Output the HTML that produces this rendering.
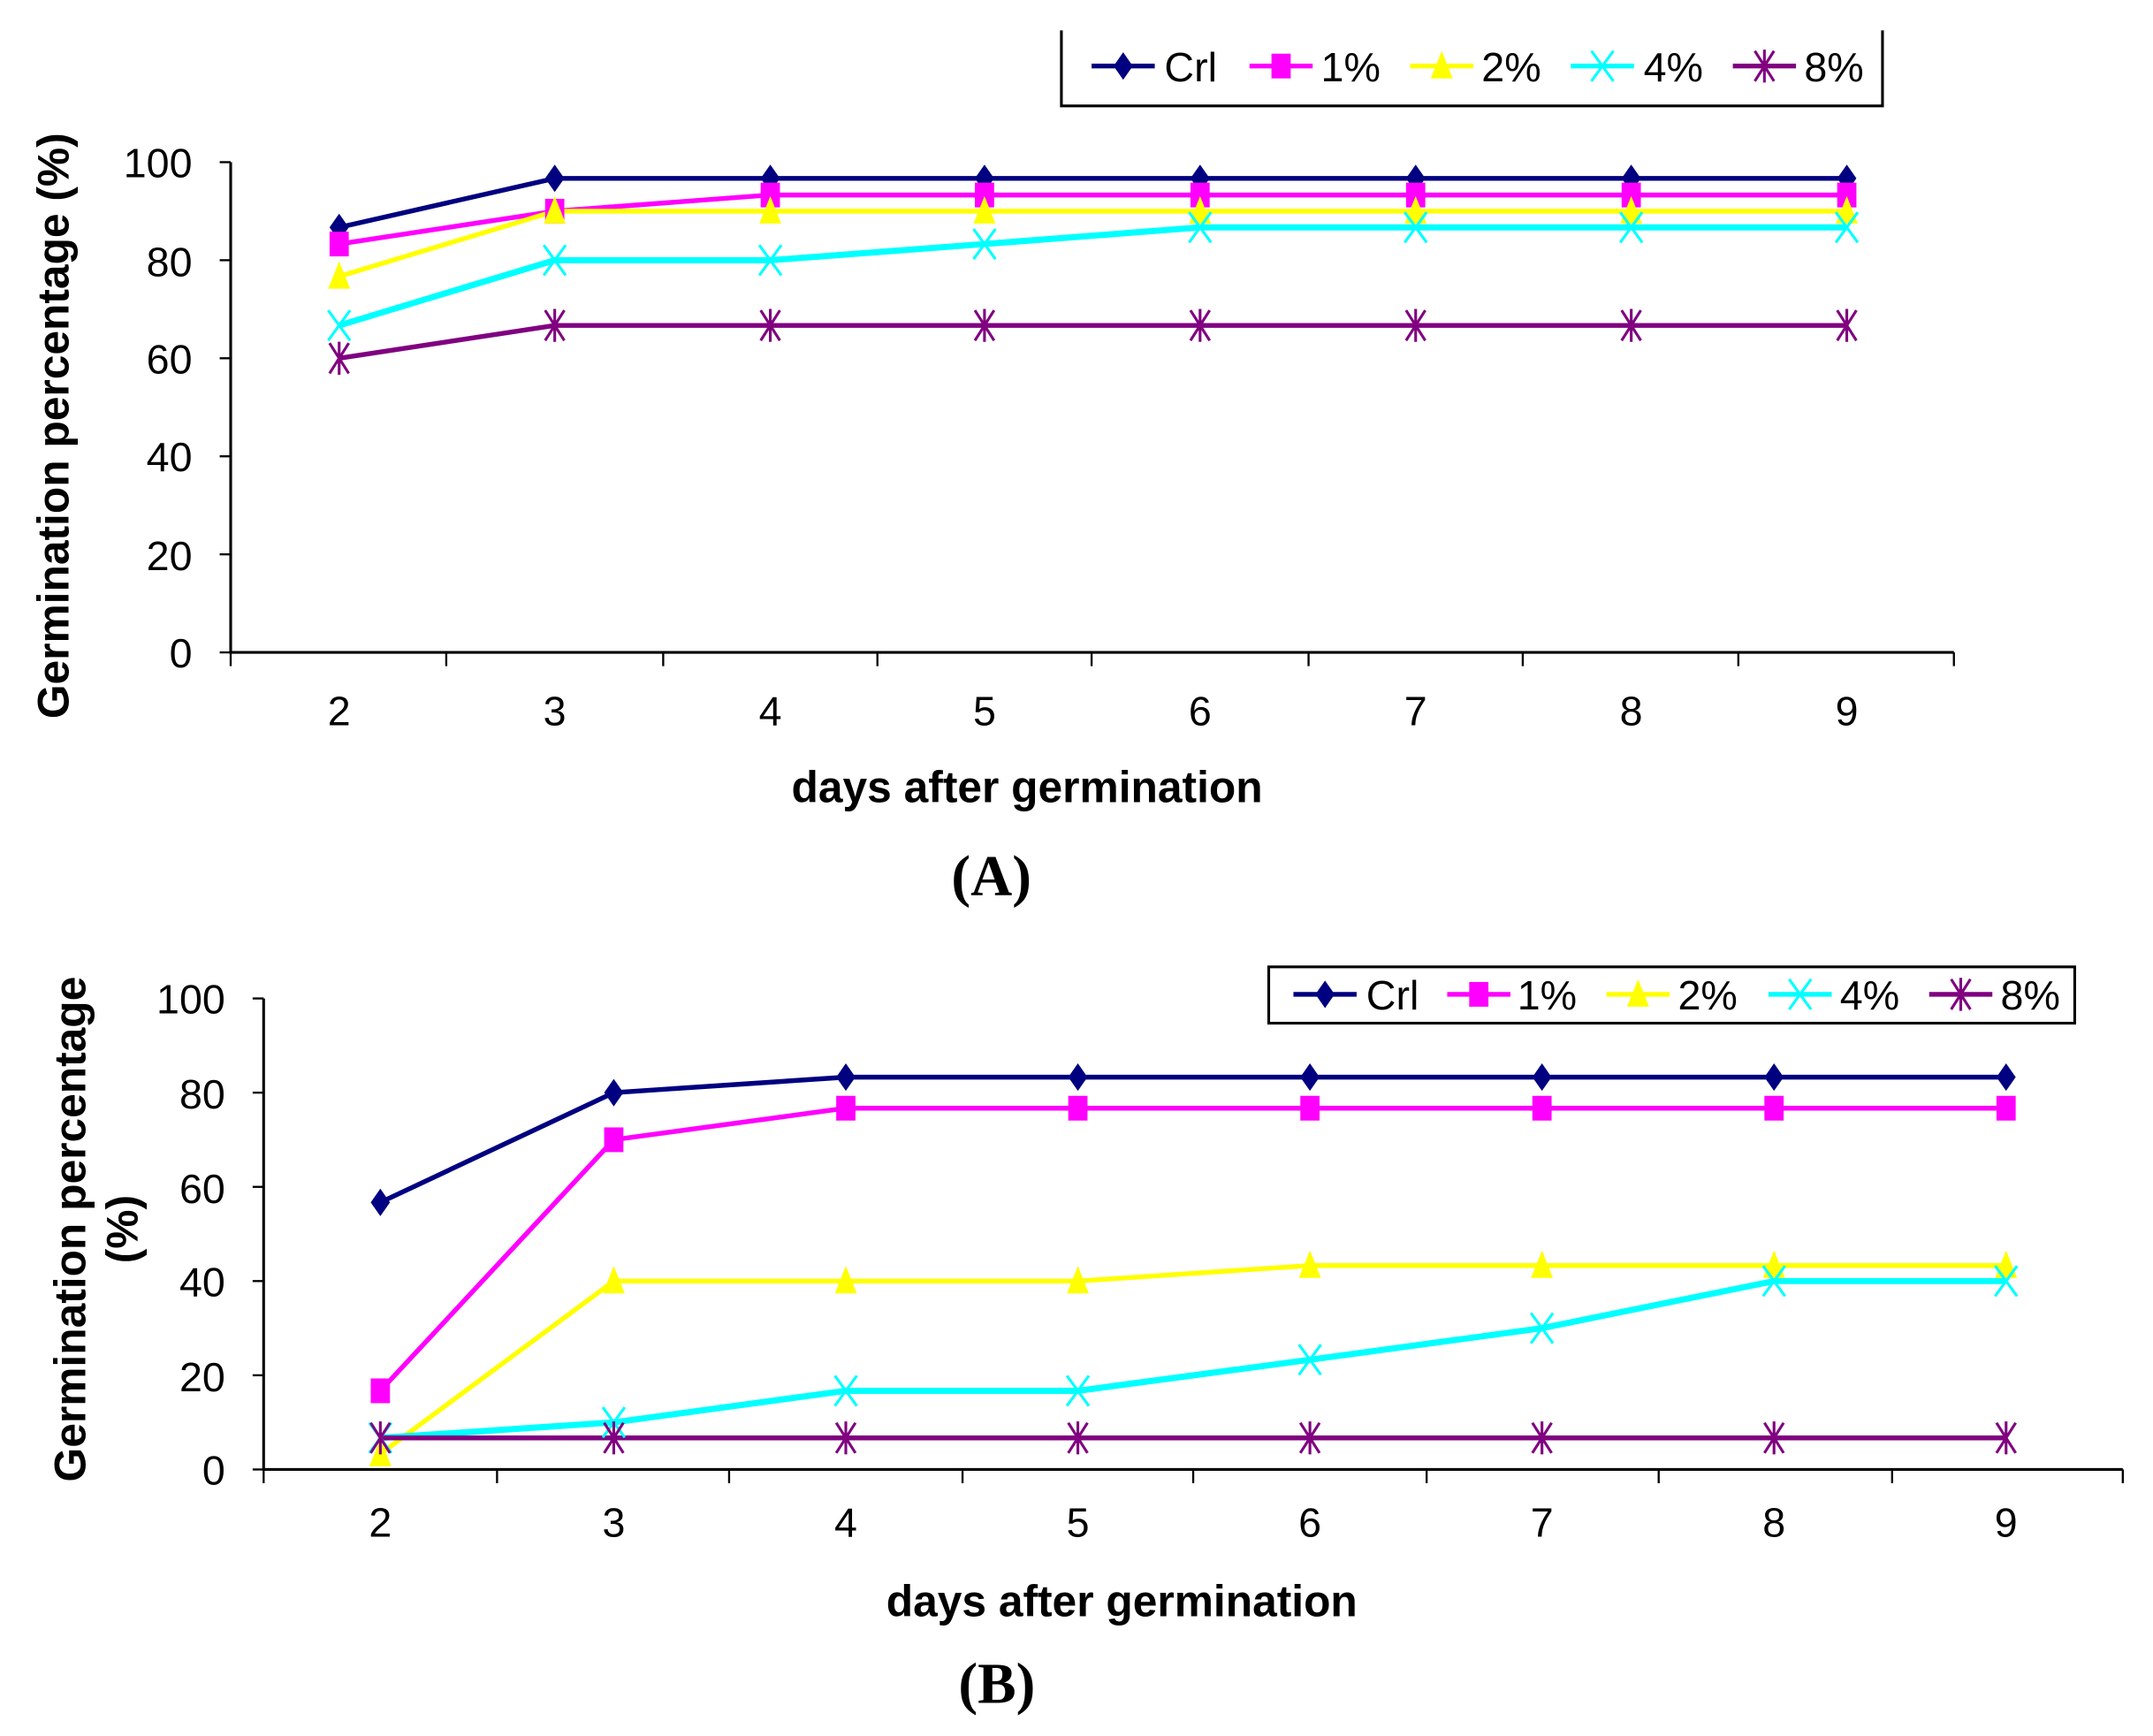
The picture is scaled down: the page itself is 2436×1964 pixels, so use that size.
<!DOCTYPE html>
<html><head><meta charset="utf-8"><style>html,body{margin:0;padding:0;background:#fff}svg{display:block}</style></head>
<body>
<svg id="s" width="2436" height="1964" viewBox="0 0 1568 1264" xmlns="http://www.w3.org/2000/svg" font-family="Liberation Sans, Arial, sans-serif">
<rect width="1568" height="1264" fill="#fff"/>
<g font-size="30" fill="#000">
<text x="140" y="486" text-anchor="end">0</text>
<text x="140" y="415" text-anchor="end">20</text>
<text x="140" y="343" text-anchor="end">40</text>
<text x="140" y="272" text-anchor="end">60</text>
<text x="140" y="201" text-anchor="end">80</text>
<text x="140" y="129" text-anchor="end">100</text>
<text x="247" y="528" text-anchor="middle">2</text>
<text x="404" y="528" text-anchor="middle">3</text>
<text x="561" y="528" text-anchor="middle">4</text>
<text x="717" y="528" text-anchor="middle">5</text>
<text x="874" y="528" text-anchor="middle">6</text>
<text x="1031" y="528" text-anchor="middle">7</text>
<text x="1188" y="528" text-anchor="middle">8</text>
<text x="1345" y="528" text-anchor="middle">9</text>
<text x="748" y="584" text-anchor="middle" font-weight="bold" font-size="32">days after germination</text>
<text x="50" y="310" text-anchor="middle" font-weight="bold" font-size="32" transform="rotate(-90 50 310)">Germination percentage (%)</text>
<text x="722" y="652" text-anchor="middle" font-weight="bold" font-family="Liberation Serif, serif" font-size="42">(A)</text>
<text x="848" y="59">Crl</text><text x="962" y="59">1%</text><text x="1079" y="59">2%</text><text x="1197" y="59">4%</text><text x="1314" y="59">8%</text>
<text x="164" y="1081" text-anchor="end">0</text>
<text x="164" y="1013" text-anchor="end">20</text>
<text x="164" y="944" text-anchor="end">40</text>
<text x="164" y="876" text-anchor="end">60</text>
<text x="164" y="807" text-anchor="end">80</text>
<text x="164" y="738" text-anchor="end">100</text>
<text x="277" y="1119" text-anchor="middle">2</text>
<text x="447" y="1119" text-anchor="middle">3</text>
<text x="616" y="1119" text-anchor="middle">4</text>
<text x="785" y="1119" text-anchor="middle">5</text>
<text x="954" y="1119" text-anchor="middle">6</text>
<text x="1123" y="1119" text-anchor="middle">7</text>
<text x="1292" y="1119" text-anchor="middle">8</text>
<text x="1461" y="1119" text-anchor="middle">9</text>
<text x="817" y="1177" text-anchor="middle" font-weight="bold" font-size="32">days after germination</text>
<text x="62" y="895" text-anchor="middle" font-weight="bold" font-size="32" transform="rotate(-90 62 895)">Germination percentage</text>
<text x="100" y="895" text-anchor="middle" font-weight="bold" font-size="32" transform="rotate(-90 100 895)">(%)</text>
<text x="726" y="1240" text-anchor="middle" font-weight="bold" font-family="Liberation Serif, serif" font-size="42">(B)</text>
<text x="995" y="735">Crl</text><text x="1105" y="735">1%</text><text x="1222" y="735">2%</text><text x="1340" y="735">4%</text><text x="1457" y="735">8%</text>
</g>
<g id="dyn"></g>
</svg>
<script>
var g=document.getElementById("dyn"),h="";
var cols=["#000080","#FF00FF","#FFFF00","#00FFFF","#800080"];
function mk(t,x,y){var c=cols[t];
 if(t==0)return '<polygon points="'+x+','+(y-10)+' '+(x+7)+','+y+' '+x+','+(y+10)+' '+(x-7)+','+y+'" fill="'+c+'"/>';
 if(t==1)return '<rect x="'+(x-7)+'" y="'+(y-9)+'" width="14" height="18" fill="'+c+'"/>';
 if(t==2)return '<polygon points="'+x+','+(y-11)+' '+(x+8)+','+(y+9)+' '+(x-8)+','+(y+9)+'" fill="'+c+'"/>';
 if(t==3)return '<path d="M'+(x-8)+','+(y-11)+'L'+(x+8)+','+(y+11)+'M'+(x+8)+','+(y-11)+'L'+(x-8)+','+(y+11)+'" stroke="'+c+'" stroke-width="2"/>';
 return '<path d="M'+(x-7)+','+(y-11)+'L'+(x+7)+','+(y+11)+'M'+(x+7)+','+(y-11)+'L'+(x-7)+','+(y+11)+'M'+x+','+(y-12)+'L'+x+','+(y+12)+'" stroke="'+c+'" stroke-width="2"/>';}
function chart(ax,y0,k,xr,xs,ticks,data){
 h+='<path d="M'+ax+','+(y0-100*k)+'L'+ax+','+y0+'L'+xr+','+y0+'" stroke="#000" stroke-width="2" fill="none"/>';
 for(var v=0;v<=100;v+=20)h+='<path d="M'+(ax-8)+','+(y0-v*k)+'L'+ax+','+(y0-v*k)+'" stroke="#000" stroke-width="1.5"/>';
 ticks.forEach(function(t){h+='<path d="M'+t+','+y0+'L'+t+','+(y0+10)+'" stroke="#000" stroke-width="1.5"/>';});
 data.forEach(function(d,i){var p=d.map(function(v,j){return xs[j]+','+(y0-v*k).toFixed(1)}).join(' ');
  h+='<polyline points="'+p+'" fill="none" stroke="'+cols[i]+'" stroke-width="'+(i==3?4.5:3.5)+'"/>';});
 data.forEach(function(d,i){d.forEach(function(v,j){h+=mk(i,xs[j],y0-v*k);});});}
chart(168,475,3.57,1423,[247,404,561,717,874,1031,1188,1345],[168,325,483,639,795,953,1109,1266,1423],[
[86.7,96.7,96.7,96.7,96.7,96.7,96.7,96.7],[83.3,90,93.3,93.3,93.3,93.3,93.3,93.3],[76.7,90,90,90,90,90,90,90],[66.7,80,80,83.3,86.7,86.7,86.7,86.7],[60,66.7,66.7,66.7,66.7,66.7,66.7,66.7]]);
chart(192,1070,3.43,1546,[277,447,616,785,954,1123,1292,1461],[192,362,531,701,869,1039,1208,1378,1546],[
[56.7,80,83.3,83.3,83.3,83.3,83.3,83.3],[16.7,70,76.7,76.7,76.7,76.7,76.7,76.7],[3.3,40,40,40,43.3,43.3,43.3,43.3],[6.7,10,16.7,16.7,23.3,30,40,40],[6.7,6.7,6.7,6.7,6.7,6.7,6.7,6.7]]);
h+='<path d="M773,22L773,77L1371,77L1371,22" fill="none" stroke="#000" stroke-width="2"/>';
[818,933,1050,1167,1285].forEach(function(x,i){h+='<path d="M'+(x-23)+',48L'+(x+23)+',48" stroke="'+cols[i]+'" stroke-width="3.5"/>'+mk(i,x,48);});
h+='<rect x="924" y="704" width="587" height="41" fill="none" stroke="#000" stroke-width="2"/>';
[965,1077,1193,1311,1428].forEach(function(x,i){h+='<path d="M'+(x-23)+',724L'+(x+23)+',724" stroke="'+cols[i]+'" stroke-width="3.5"/>'+mk(i,x,724);});
g.innerHTML=h;
</script>
</body></html>
